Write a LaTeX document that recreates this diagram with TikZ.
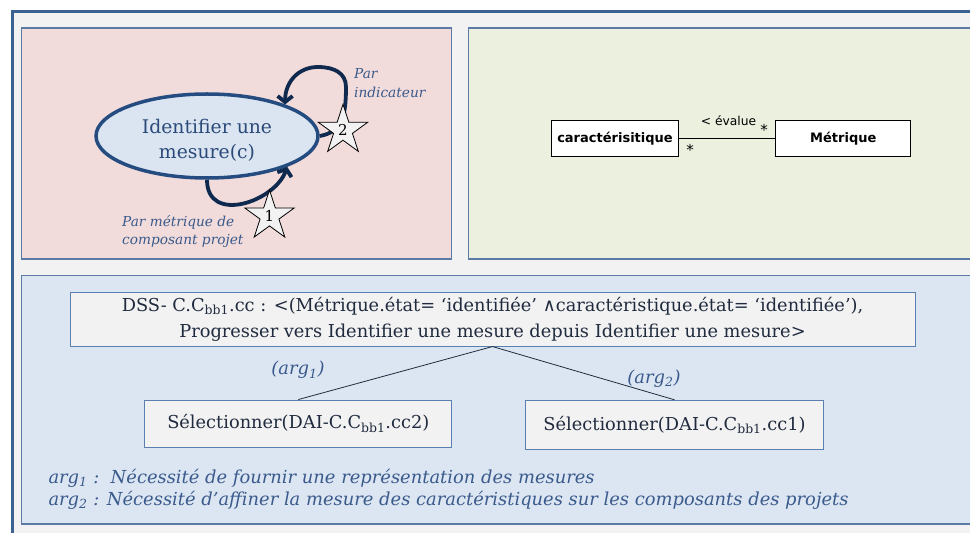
\documentclass[tikz,border=0pt]{standalone}
\usepackage{fontspec}
\setmainfont{DejaVu Serif}
\setsansfont{DejaVu Sans}
\usetikzlibrary{arrows.meta,positioning,shapes.geometric}

\definecolor{frameblue}{HTML}{3C6291}
\definecolor{framefill}{HTML}{F2F2F2}
\definecolor{panelline}{HTML}{5C7AA6}
\definecolor{pinkfill}{HTML}{F2DCDB}
\definecolor{greenfill}{HTML}{EBF0DF}
\definecolor{bluefill}{HTML}{DCE6F2}
\definecolor{ellipseline}{HTML}{244C80}
\definecolor{ellipsefill}{HTML}{DBE5F1}
\definecolor{ellipseink}{HTML}{2B4A7A}
\definecolor{loopnavy}{HTML}{0F2A4E}
\definecolor{starfill}{HTML}{F2F2F2}
\definecolor{labelblue}{HTML}{3A5A8C}
\definecolor{boxline}{HTML}{5A80B0}
\definecolor{boxfill}{HTML}{F2F2F2}
\definecolor{boxink}{HTML}{202B3F}

\begin{document}
\begin{tikzpicture}[x=1pt, y=1pt,
    panel/.style={draw=panelline, line width=1.1pt},
    boxtext/.style={draw=boxline, fill=boxfill, line width=1pt, text=boxink, font=\fontsize{17.8}{26}\selectfont, align=center, inner sep=0pt},
    taskellipse/.style={ellipse, draw=ellipseline, fill=ellipsefill, line width=3.5pt, text=ellipseink, font=\fontsize{18.8}{25}\selectfont, align=center, inner sep=0pt},
    loopline/.style={draw=loopnavy, line width=3.8pt, -{Straight Barb[length=6pt,width=15pt]}},
    starmark/.style={star, star points=5, star point ratio=2.618, draw=black, fill=starfill, line width=0.8pt, inner sep=0pt, minimum size=52pt, font=\fontsize{15}{15}\selectfont},
    annot/.style={text=labelblue, font=\itshape\fontsize{13.7}{18.5}\selectfont, align=left, inner sep=0pt},
    umlclass/.style={draw=black, fill=white, line width=1pt, font=\sffamily\bfseries\fontsize{13}{15}\selectfont, minimum height=36pt, inner sep=0pt},
    umltext/.style={font=\sffamily\fontsize{12.3}{14}\selectfont, inner sep=0pt},
    argtext/.style={text=labelblue, font=\itshape\fontsize{17.9}{22}\selectfont, inner sep=0pt}]
    \useasboundingbox (0,0) rectangle (970,533);
    \draw[draw=frameblue, fill=framefill, line width=3.5pt] (12.5,521.5) rectangle (990,-20);
    % the three panels
    \draw[panel, fill=pinkfill] (21.3,505) rectangle (451.7,274);
    \draw[panel, fill=greenfill] (468.3,505) rectangle (990,274);
    \draw[panel, fill=bluefill] (21.3,257.3) rectangle (990,9);

    % intention with its two strategies
    \node[taskellipse, minimum width=222pt, minimum height=84pt] (mesure) at (207,397) {};
    \node[text=ellipseink, font=\fontsize{18.8}{25}\selectfont, align=center] (mesuretxt) at (207,393) {Identifier une\\mesure(c)};
    \coordinate (loopside) at (346,446);
    \coordinate (looptop) at (318,466);
    \draw[loopline] (mesure.south) .. controls +(0,-45) and +(-12,-35) .. (mesure.-21);
    \draw[loopline] (mesure.east) .. controls +(22,4) and +(0,-30) .. (loopside) .. controls +(0,14) and +(16,0) .. (looptop) .. controls +(-20,0) and +(0,22) .. (mesure.22);
    \node[starmark] (star1) at (269.5,317) {1};
    \node[starmark] (star2) at (343,402.7) {2};
    \node[annot, anchor=west] (lbl2) at (354,450) {Par\\indicateur};
    \node[annot, anchor=west] (lbl1) at (122,301.5) {Par métrique de\\composant projet};

    % product part
    \node[umlclass, minimum width=126.6pt] (carac) at (615,394.2) {caractérisitique};
    \node[umlclass, minimum width=134.7pt] (metr) at (843.3,394.2) {Métrique};
    \draw[line width=0.8pt] (carac) -- (metr);
    \node[umltext] (evalue) at (728.5,412) {< évalue};
    \node[umltext, font=\sffamily\fontsize{15}{15}\selectfont] (mult2) at (764,403) {*};
    \node[umltext, font=\sffamily\fontsize{15}{15}\selectfont] (mult1) at (690,383) {*};

    % guideline
    \node[boxtext, minimum width=845pt, minimum height=53.7pt] (dss) at (492.5,213.8) {DSS- C.C\textsubscript{bb1}.cc : <(Métrique.état= ‘identifiée’ ∧caractéristique.état= ‘identifiée’),\\Progresser vers Identifier une mesure depuis Identifier une mesure>};
    \node[boxtext, minimum width=306.7pt, minimum height=47.3pt] (sel2) at (298.3,109.3) {Sélectionner(DAI-C.C\textsubscript{bb1}.cc2)};
    \node[boxtext, minimum width=297.6pt, minimum height=49pt] (sel1) at (674.5,108.2) {Sélectionner(DAI-C.C\textsubscript{bb1}.cc1)};
    \draw[line width=0.8pt, draw=boxink] (dss.south) -- (sel2.north);
    \draw[line width=0.8pt, draw=boxink] (dss.south) -- (sel1.north);
    \node[argtext] (arg1) at (298,163) {(arg\textsubscript{1})};
    \node[argtext] (arg2) at (654,154.7) {(arg\textsubscript{2})};
    \node[argtext, anchor=west, align=left] (args) at (48.3,43.85) {arg\textsubscript{1} :\ \ Nécessité de fournir une représentation des mesures\\arg\textsubscript{2} : Nécessité d’affiner la mesure des caractéristiques sur les composants des projets};
\end{tikzpicture}
\end{document}
